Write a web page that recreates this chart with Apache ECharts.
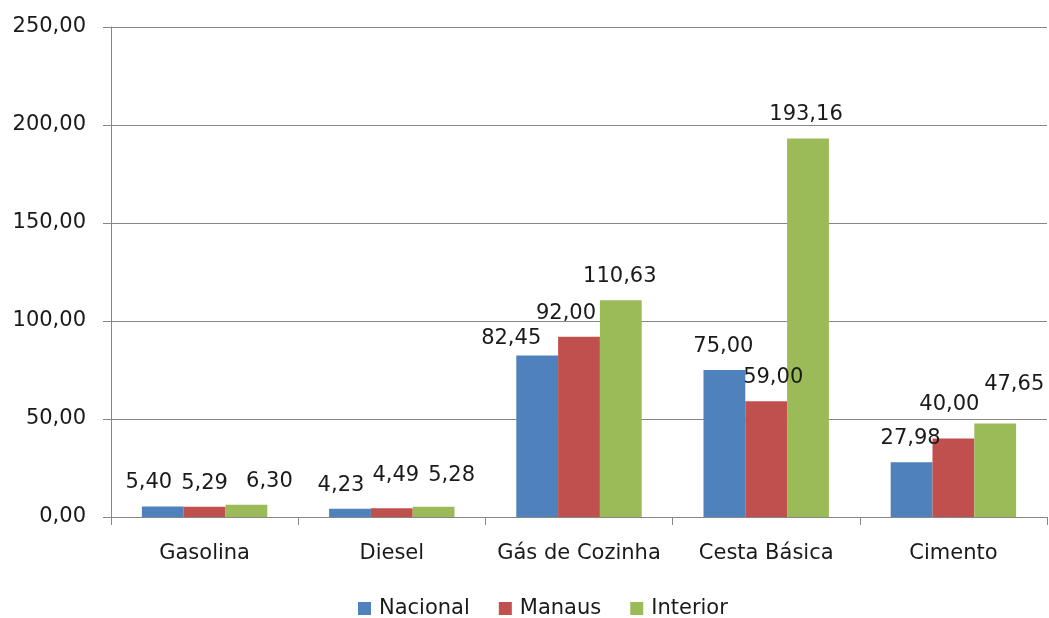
<!DOCTYPE html>
<html>
<head>
<meta charset="utf-8">
<script src="https://cdn.jsdelivr.net/npm/echarts@6/dist/echarts.min.js"></script>
<style>
  html, body { margin: 0; padding: 0; background: #ffffff; }
  #chart { width: 1049px; height: 618px; }
</style>
</head>
<body>
<div id="chart"></div>
<script>
// Preços por produto: nacional, Manaus e interior
const categories = ['Gasolina', 'Diesel', 'Gás de Cozinha', 'Cesta Básica', 'Cimento'];
const nacional = [5.40, 4.23, 82.45, 75.00, 27.98];
const manaus   = [5.29, 4.49, 92.00, 59.00, 40.00];
const interior = [6.30, 5.28, 110.63, 193.16, 47.65];
const seriesNames = ['Nacional', 'Manaus', 'Interior'];
const yTicks = { min: 0, max: 250, interval: 50 };

const colors = ['#4f81bd', '#c0504d', '#9bbb59'];
const fontFamily = '"DejaVu Sans", sans-serif';
const textColor = '#1a1a1a';
const axisGray = '#868686';

// Label nudges [dx, dy] per series and category, keeping neighbouring labels apart
const labelNudge = [
  [[-14, 0], [-9, 0], [-26, 7], [-1, 0], [-1, 0]],
  [[0, 0], [4, -9], [-13, 0], [7, 0], [-4, -11]],
  [[23, 0], [18, -8], [-1, 0], [-2, 0], [19, -16]]
];

const fmt = v => v.toFixed(2).replace('.', ',');

function makeSeries(name, values, idx) {
  return {
    name: name,
    type: 'bar',
    barGap: '0%',
    barCategoryGap: '33%',
    itemStyle: { color: colors[idx] },
    data: values.map((v, c) => ({
      value: v,
      label: { offset: labelNudge[idx][c] }
    })),
    label: {
      show: true,
      position: 'top',
      distance: 13,
      color: textColor,
      fontFamily: fontFamily,
      fontSize: 21,
      formatter: p => fmt(p.value)
    }
  };
}

const chart = echarts.init(document.getElementById('chart'));
chart.setOption({
  animation: false,
  backgroundColor: '#ffffff',
  grid: { left: 111, right: 2, top: 27, bottom: 101, containLabel: false },
  legend: {
    top: 593,
    left: 353,
    itemWidth: 13,
    itemHeight: 13,
    itemGap: 29,
    icon: 'rect',
    textStyle: { color: textColor, fontFamily: fontFamily, fontSize: 21, padding: [0, 0, 0, 3] },
    data: seriesNames
  },
  xAxis: {
    type: 'category',
    data: categories,
    axisLine: { lineStyle: { color: axisGray, width: 1 } },
    axisTick: { show: true, length: 8, alignWithLabel: false, lineStyle: { color: axisGray } },
    axisLabel: { interval: 0, color: textColor, fontFamily: fontFamily, fontSize: 21, margin: 26 }
  },
  yAxis: {
    type: 'value',
    min: yTicks.min,
    max: yTicks.max,
    interval: yTicks.interval,
    axisLine: { show: true, lineStyle: { color: axisGray, width: 1 } },
    axisTick: { show: true, length: 8, lineStyle: { color: axisGray } },
    splitLine: { show: true, lineStyle: { color: axisGray, width: 1 } },
    axisLabel: {
      color: textColor, fontFamily: fontFamily, fontSize: 21, margin: 25,
      formatter: v => fmt(v)
    }
  },
  series: [
    makeSeries(seriesNames[0], nacional, 0),
    makeSeries(seriesNames[1], manaus, 1),
    makeSeries(seriesNames[2], interior, 2)
  ]
});
</script>
</body>
</html>
